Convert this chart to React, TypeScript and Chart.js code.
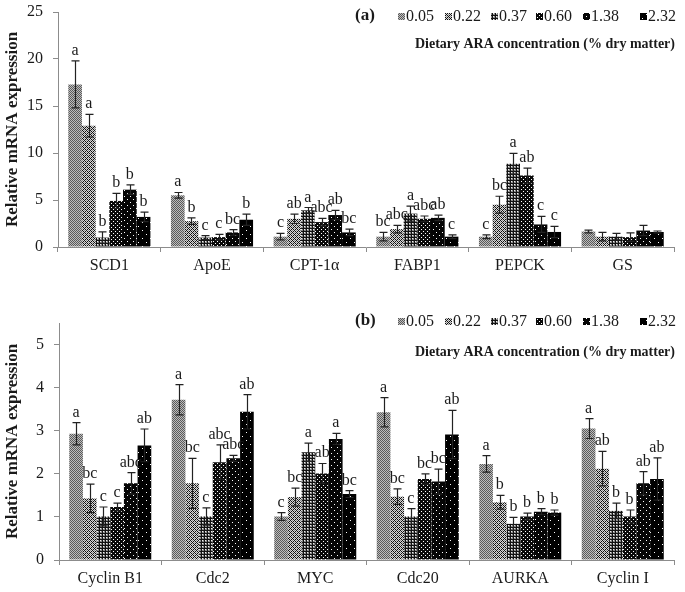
import React, { useEffect, useRef } from 'react';
import { Chart, registerables } from 'chart.js';
Chart.register(...registerables);

// ---------- data ----------
const concentrations = ['0.05', '0.22', '0.37', '0.60', '1.38', '2.32'];

const genesA = ['SCD1', 'ApoE', 'CPT-1α', 'FABP1', 'PEPCK', 'GS'];
const a005 = [17.3, 5.5, 1.1, 1.1, 1.1, 1.65];
const a022 = [12.9, 2.75, 3.0, 1.9, 4.5, 1.1];
const a037 = [1.0, 1.0, 3.9, 3.55, 8.85, 1.1];
const a060 = [4.9, 1.05, 2.65, 3.0, 7.6, 1.05];
const a138 = [6.1, 1.55, 3.4, 3.1, 2.4, 1.75];
const a232 = [3.2, 2.9, 1.55, 1.1, 1.6, 1.6];
const ae005 = [2.5, 0.3, 0.35, 0.45, 0.2, 0.15];
const ae022 = [1.2, 0.35, 0.5, 0.4, 0.9, 0.45];
const ae037 = [0.6, 0.2, 0.3, 0.8, 1.1, 0.35];
const ae060 = [0.8, 0.3, 0.4, 0.3, 0.8, 0.45];
const ae138 = [0.5, 0.3, 0.5, 0.3, 0.85, 0.55];
const ae232 = [0.5, 0.6, 0.35, 0.2, 0.6, 0.1];
const al005 = ['a', 'a', 'c', 'bc', 'c', ''];
const al022 = ['a', 'b', 'ab', 'abc', 'bc', ''];
const al037 = ['b', 'c', 'a', 'a', 'a', ''];
const al060 = ['b', 'c', 'abc', 'abc', 'ab', ''];
const al138 = ['b', 'bc', 'ab', 'ab', 'c', ''];
const al232 = ['b', 'b', 'bc', 'c', 'c', ''];
const yTicksA = [0, 5, 10, 15, 20, 25];

const genesB = ['Cyclin B1', 'Cdc2', 'MYC', 'Cdc20', 'AURKA', 'Cyclin I'];
const b005 = [2.93, 3.72, 1.01, 3.43, 2.23, 3.05];
const b022 = [1.43, 1.78, 1.46, 1.47, 1.34, 2.12];
const b037 = [1.01, 1.01, 2.5, 1.01, 0.84, 1.14];
const b060 = [1.23, 2.27, 2.01, 1.88, 1.01, 1.01];
const b138 = [1.78, 2.36, 2.81, 1.82, 1.12, 1.78];
const b232 = [2.66, 3.44, 1.53, 2.91, 1.1, 1.88];
const be005 = [0.26, 0.35, 0.09, 0.34, 0.19, 0.23];
const be022 = [0.33, 0.58, 0.21, 0.18, 0.16, 0.4];
const be037 = [0.22, 0.2, 0.21, 0.18, 0.15, 0.18];
const be060 = [0.09, 0.4, 0.23, 0.12, 0.08, 0.15];
const be138 = [0.25, 0.07, 0.13, 0.29, 0.07, 0.27];
const be232 = [0.38, 0.4, 0.08, 0.56, 0.06, 0.49];
const bl005 = ['a', 'a', 'c', 'a', 'a', 'a'];
const bl022 = ['bc', 'bc', 'bc', 'bc', 'b', 'ab'];
const bl037 = ['c', 'c', 'a', 'c', 'b', 'b'];
const bl060 = ['c', 'abc', 'ab', 'bc', 'b', 'b'];
const bl138 = ['abc', 'abc', 'a', 'bc', 'b', 'ab'];
const bl232 = ['ab', 'ab', 'bc', 'ab', 'b', 'ab'];
const yTicksB = [0, 1, 2, 3, 4, 5];

const yTitle = 'Relative mRNA expression';
const legendTitle = 'Dietary ARA concentration (% dry matter)';

const FONT = "'Liberation Serif', 'Times New Roman', serif";
const TEXT = '#1a1a1a';
const AXIS = '#8c8c8c';

// ---------- patterns ----------
function tile(size: number, fn: (x: number, y: number) => string) {
  const c = document.createElement('canvas');
  c.width = size; c.height = size;
  const g = c.getContext('2d')!;
  for (let y = 0; y < size; y++) for (let x = 0; x < size; x++) {
    g.fillStyle = fn(x, y);
    g.fillRect(x, y, 1, 1);
  }
  return g.createPattern(c, 'repeat')!;
}
function makePatterns() {
  return [
    tile(2, (x, y) => ((x + y) % 2 === 0 ? '#5a5a5a' : '#bdbdbd')),
    tile(4, (x, y) => (x === y || (x + y) % 4 === 0 ? '#111' : ((x + y) % 2 === 0 ? '#8a8a8a' : '#d8d8d8'))),
    tile(3, (x, y) => (x === 0 || y === 0 ? '#111' : (x === 1 && y === 1 ? '#f0f0f0' : '#8a8a8a'))),
    tile(4, (x, y) => ((x === 1 && y === 1) || (x === 3 && y === 3) ? '#ffffff' : '#0a0a0a')),
    tile(6, (x, y) => ((x === 1 && y === 1) || (x === 4 && y === 4) ? '#ffffff' : '#050505')),
    tile(8, (x, y) => ((x === 2 && y === 2) || (x === 6 && y === 6) ? '#ffffff' : '#000000')),
  ];
}

// ---------- plugins ----------
const errLetters = {
  id: 'errLetters',
  afterDatasetsDraw(chart: any) {
    const ctx = chart.ctx;
    const ys = chart.scales.y;
    ctx.save();
    chart.data.datasets.forEach((ds: any, i: number) => {
      const meta = chart.getDatasetMeta(i);
      meta.data.forEach((bar: any, j: number) => {
        const v = ds.data[j];
        const e = ds.errors[j];
        const x = Math.round(bar.x) + 0.5;
        const yt = ys.getPixelForValue(v + e);
        const yb = ys.getPixelForValue(Math.max(0, v - e));
        ctx.strokeStyle = '#222';
        ctx.lineWidth = 1.2;
        ctx.beginPath();
        ctx.moveTo(x, yt); ctx.lineTo(x, yb);
        ctx.moveTo(x - 4, yt); ctx.lineTo(x + 4, yt);
        ctx.moveTo(x - 4, yb); ctx.lineTo(x + 4, yb);
        ctx.stroke();
        const l = ds.letters[j];
        if (l) {
          ctx.fillStyle = TEXT;
          ctx.font = `16px ${FONT}`;
          ctx.textAlign = 'center';
          ctx.textBaseline = 'alphabetic';
          ctx.fillText(l, bar.x, yt - 6);
        }
      });
    });
    ctx.restore();
  },
};

const markerX = [398, 445, 491, 536, 583, 640];

const customLegend = {
  id: 'customLegend',
  afterDraw(chart: any, _args: any, opts: any) {
    const ctx = chart.ctx;
    ctx.save();
    ctx.fillStyle = TEXT;
    ctx.textBaseline = 'middle';
    ctx.textAlign = 'left';
    ctx.font = `bold 17px ${FONT}`;
    ctx.fillText(opts.tag, 355, opts.rowY);
    ctx.font = `16px ${FONT}`;
    chart.data.datasets.forEach((ds: any, i: number) => {
      ctx.fillStyle = ds.backgroundColor;
      ctx.fillRect(markerX[i], opts.rowY - 3, 7, 7);
      ctx.fillStyle = TEXT;
      ctx.fillText(ds.label, markerX[i] + 8, opts.rowY + 1);
    });
    ctx.font = `bold 14px ${FONT}`;
    ctx.textAlign = 'right';
    ctx.fillText(legendTitle, 675, opts.subY);
    ctx.restore();
  },
};

function buildChart(
  canvas: HTMLCanvasElement,
  cats: string[],
  series: number[][],
  errs: number[][],
  letters: string[][],
  ticks: number[],
  yMax: number,
  cfg: { padTop: number; yWidth: number; xHeight: number; tag: string; rowY: number; subY: number }
) {
  const pats = makePatterns();
  return new Chart(canvas, {
    type: 'bar',
    data: {
      labels: cats,
      datasets: series.map((d, i) => ({
        label: concentrations[i],
        data: d,
        errors: errs[i],
        letters: letters[i],
        backgroundColor: pats[i],
        borderWidth: 0,
        categoryPercentage: 0.8,
        barPercentage: 1.0,
      })) as any,
    },
    options: {
      animation: false,
      responsive: false,
      devicePixelRatio: 1,
      layout: { padding: { left: 0, right: 11, top: cfg.padTop, bottom: 0 } },
      plugins: {
        legend: { display: false },
        tooltip: { enabled: false },
        customLegend: { tag: cfg.tag, rowY: cfg.rowY, subY: cfg.subY },
      } as any,
      scales: {
        x: {
          grid: { display: true, drawOnChartArea: false, offset: true, tickLength: 5, color: AXIS },
          border: { display: true, color: AXIS },
          ticks: { color: TEXT, font: { family: FONT, size: 16 }, padding: 4, maxRotation: 0 },
          afterFit: (s: any) => { s.height = cfg.xHeight; s.paddingLeft = 0; s.paddingRight = 0; },
        },
        y: {
          min: 0,
          max: yMax,
          afterBuildTicks: (s: any) => { s.ticks = ticks.map((v) => ({ value: v })); },
          grid: { display: true, drawOnChartArea: false, tickLength: 5, color: AXIS },
          border: { display: true, color: AXIS },
          ticks: { color: TEXT, font: { family: FONT, size: 16 }, padding: 10 },
          title: { display: true, text: yTitle, color: TEXT, font: { family: FONT, size: 17, weight: 'bold' }, padding: { top: 2, bottom: 0 } },
          afterFit: (s: any) => { s.width = cfg.yWidth; s.paddingTop = 0; s.paddingBottom = 0; },
        },
      },
    } as any,
    plugins: [errLetters, customLegend],
  });
}

export default function App() {
  const refA = useRef<HTMLCanvasElement>(null);
  const refB = useRef<HTMLCanvasElement>(null);
  useEffect(() => {
    const cA = buildChart(
      refA.current!, genesA,
      [a005, a022, a037, a060, a138, a232],
      [ae005, ae022, ae037, ae060, ae138, ae232],
      [al005, al022, al037, al060, al138, al232],
      yTicksA, 25,
      { padTop: 12, yWidth: 58, xHeight: 43, tag: '(a)', rowY: 16, subY: 44 }
    );
    const cB = buildChart(
      refB.current!, genesB,
      [b005, b022, b037, b060, b138, b232],
      [be005, be022, be037, be060, be138, be232],
      [bl005, bl022, bl037, bl060, bl138, bl232],
      yTicksB, 5.5,
      { padTop: 33, yWidth: 59, xHeight: 32, tag: '(b)', rowY: 31, subY: 62 }
    );
    return () => { cA.destroy(); cB.destroy(); };
  }, []);
  return (
    <div style={{ position: 'absolute', left: 0, top: 0, width: 685, height: 592, background: '#fff' }}>
      <canvas ref={refA} width={685} height={290} style={{ position: 'absolute', left: 0, top: 0, display: 'block' }} />
      <canvas ref={refB} width={685} height={302} style={{ position: 'absolute', left: 0, top: 290, display: 'block' }} />
    </div>
  );
}
